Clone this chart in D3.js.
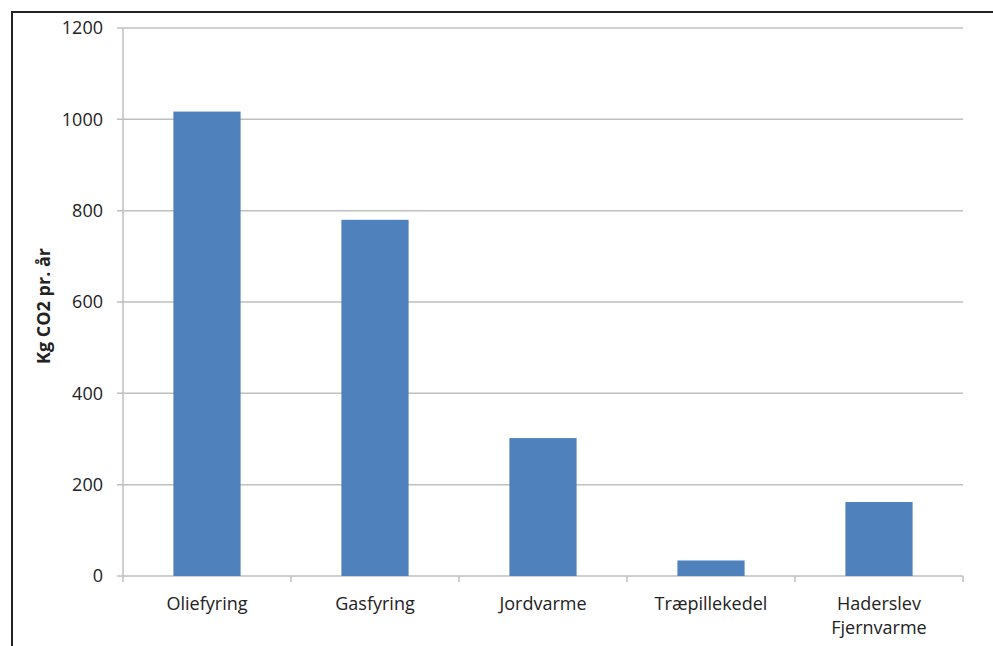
<!DOCTYPE html>
<html><head><meta charset="utf-8">
<script src="https://cdn.jsdelivr.net/npm/d3@7/dist/d3.min.js"></script>
<style>body{margin:0;background:#fff;} svg{display:block;}</style>
</head><body>
<svg id="chart" width="993" height="646"></svg>
<script>
const categories = [["Oliefyring"], ["Gasfyring"], ["Jordvarme"], ["Træpillekedel"], ["Haderslev", "Fjernvarme"]];
const values = [1017, 780, 302, 34, 162];
const yTicks = [0, 200, 400, 600, 800, 1000, 1200];
const yTitle = "Kg CO2 pr. år";

(function () {
const svg = d3.select("#chart");
const pL = 123, pR = 963, pT = 28, pB = 576;
const font = "'Open Sans', sans-serif";
const gray = "#bfbfbf";

// frame
svg.append("path").attr("d", `M12,646 L12,12 L993,12`).attr("fill", "none").attr("stroke", "#222").attr("stroke-width", 2);

const x = d3.scaleBand().domain(d3.range(categories.length)).range([pL, pR]).paddingInner(0.6).paddingOuter(0.3);
const y = d3.scaleLinear().domain([0, 1200]).range([pB, pT]);

// gridlines
svg.append("g").selectAll("line").data(yTicks).join("line")
  .attr("x1", pL - 6).attr("x2", pR)
  .attr("y1", d => y(d)).attr("y2", d => y(d))
  .attr("stroke", gray).attr("stroke-width", 1.5);

// y axis line
svg.append("line").attr("x1", pL).attr("x2", pL).attr("y1", pT).attr("y2", pB).attr("stroke", gray).attr("stroke-width", 1.5);

// x ticks at category boundaries
const step = x.step();
svg.append("g").selectAll("line").data(d3.range(categories.length + 1)).join("line")
  .attr("x1", i => pL + i * step).attr("x2", i => pL + i * step)
  .attr("y1", pB).attr("y2", pB + 6)
  .attr("stroke", gray).attr("stroke-width", 1.5);

// y tick labels
svg.append("g").selectAll("text").data(yTicks).join("text")
  .attr("x", 103).attr("y", d => y(d)).attr("dy", "0.36em")
  .attr("text-anchor", "end").attr("font-family", font).attr("font-size", 18).attr("fill", "#222")
  .text(d => d);

// bars
svg.append("g").selectAll("rect").data(values).join("rect")
  .attr("x", (d, i) => x(i)).attr("width", x.bandwidth())
  .attr("y", d => y(d)).attr("height", d => y(0) - y(d))
  .attr("fill", "#4f81bd");

// category labels
const lbl = svg.append("g").selectAll("text").data(categories).join("text")
  .attr("x", (d, i) => x(i) + x.bandwidth() / 2).attr("y", 610)
  .attr("text-anchor", "middle").attr("font-family", font).attr("font-size", 18).attr("fill", "#222");
lbl.each(function(d) {
  const t = d3.select(this);
  d.forEach((s, k) => t.append("tspan").attr("x", t.attr("x")).attr("dy", k === 0 ? 0 : 24).text(s));
});

// y title
svg.append("text").attr("transform", `translate(50,${(pT + pB) / 2 + 4}) rotate(-90)`)
  .attr("text-anchor", "middle").attr("font-family", font).attr("font-size", 18).attr("font-weight", "bold").attr("fill", "#222")
  .text(yTitle);
})();
</script>
</body></html>
